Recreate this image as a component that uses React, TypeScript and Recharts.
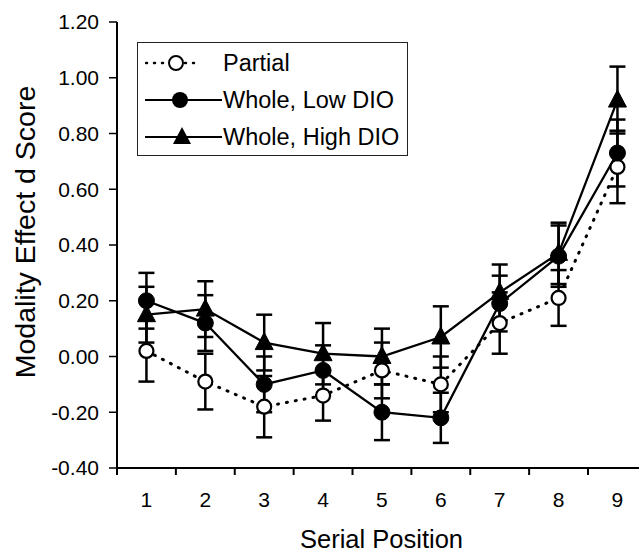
import React from 'react';
import { LineChart, Line, XAxis, YAxis, ErrorBar, Legend, Label } from 'recharts';

const FONT = '"Liberation Sans", Arial, Helvetica, sans-serif';

const positions = [1, 2, 3, 4, 5, 6, 7, 8, 9];
const xTickLabels = ['1', '2', '3', '4', '5', '6', '7', '8', '9'];
const partial = [0.02, -0.09, -0.18, -0.14, -0.05, -0.1, 0.12, 0.21, 0.68];
const partialErr = [0.11, 0.1, 0.11, 0.09, 0.1, 0.1, 0.11, 0.1, 0.13];
const lowDIO = [0.2, 0.12, -0.1, -0.05, -0.2, -0.22, 0.19, 0.36, 0.73];
const lowDIOErr = [0.1, 0.1, 0.1, 0.09, 0.1, 0.09, 0.1, 0.11, 0.12];
const highDIO = [0.15, 0.17, 0.05, 0.01, 0.0, 0.07, 0.23, 0.37, 0.92];
const highDIOErr = [0.1, 0.1, 0.1, 0.11, 0.1, 0.11, 0.1, 0.11, 0.12];
const yTicks = [-0.4, -0.2, 0, 0.2, 0.4, 0.6, 0.8, 1.0, 1.2];
const seriesNames = ['Partial', 'Whole, Low DIO', 'Whole, High DIO'];
const xTitle = 'Serial Position';
const yTitle = 'Modality Effect d Score';

const data = positions.map((p, i) => ({
  x: p,
  partial: partial[i],
  partialErr: partialErr[i],
  lowDIO: lowDIO[i],
  lowDIOErr: lowDIOErr[i],
  highDIO: highDIO[i],
  highDIOErr: highDIOErr[i],
}));

const xTicks = positions.flatMap((p) => [p - 0.5, p]);

const X_TICK_SIZE = 8;
const X_TICK_MARGIN = 16;

const XTick = (props: any) => {
  const { x, y, payload } = props;
  const v = payload.value;
  if (Number.isInteger(v)) {
    return (
      <text x={x} y={y} dy="0.71em" textAnchor="middle" fontSize={21} fill="#000" fontFamily={FONT}>
        {xTickLabels[v - 1]}
      </text>
    );
  }
  const axisY = y - X_TICK_SIZE - X_TICK_MARGIN;
  return <line x1={x} x2={x} y1={axisY} y2={axisY + 7} stroke="#000" strokeWidth={2} />;
};

const OpenDot = (p: any) => (
  <circle key={`o-${p.index}`} cx={p.cx} cy={p.cy} r={7} fill="#fff" stroke="#000" strokeWidth={2.2} />
);
const FilledDot = (p: any) => (
  <circle key={`f-${p.index}`} cx={p.cx} cy={p.cy} r={8} fill="#000" stroke="#000" strokeWidth={1} />
);
const TriDot = (p: any) => (
  <path
    key={`t-${p.index}`}
    d={`M${p.cx},${p.cy - 10} L${p.cx + 9},${p.cy + 7} L${p.cx - 9},${p.cy + 7} Z`}
    fill="#000"
    stroke="#000"
    strokeWidth={1}
  />
);

const YTitle = (props: any) => {
  const vb = props.viewBox;
  const cx = vb.x + 25;
  const cy = vb.y + vb.height / 2 - 13;
  return (
    <text
      x={cx}
      y={cy}
      transform={`rotate(-90 ${cx} ${cy})`}
      textAnchor="middle"
      dominantBaseline="central"
      fontSize={28.5}
      fill="#000"
      fontFamily={FONT}
    >
      {yTitle}
    </text>
  );
};

const XTitle = (props: any) => {
  const vb = props.viewBox;
  return (
    <text x={vb.x + vb.width / 2 + 3.5} y={vb.y + 80} textAnchor="middle" fontSize={25.5} fill="#000" fontFamily={FONT}>
      {xTitle}
    </text>
  );
};

const legendIcon = (i: number) => {
  if (i === 0) {
    return (
      <g>
        <line x1={1} x2={23} y1={18} y2={18} stroke="#000" strokeWidth={2.5} strokeDasharray="1 7" strokeLinecap="round" />
        <line x1={40} x2={56} y1={18} y2={18} stroke="#000" strokeWidth={2.5} strokeDasharray="1 7" strokeLinecap="round" />
        <circle cx={31} cy={18} r={7} fill="#fff" stroke="#000" strokeWidth={2} />
      </g>
    );
  }
  if (i === 1) {
    return (
      <g>
        <line x1={0} x2={77} y1={18} y2={18} stroke="#000" strokeWidth={2.2} />
        <circle cx={35} cy={18} r={8} fill="#000" />
      </g>
    );
  }
  return (
    <g>
      <line x1={0} x2={77} y1={18} y2={18} stroke="#000" strokeWidth={2.2} />
      <path d="M37,8 L46,25 L28,25 Z" fill="#000" />
    </g>
  );
};

const LegendBox = () => (
  <div
    style={{
      boxSizing: 'border-box',
      width: 271,
      height: 114,
      border: '1px solid #222',
      background: '#fff',
      paddingTop: 1.5,
      fontFamily: FONT,
      fontSize: 23.5,
      color: '#000',
    }}
  >
    {seriesNames.map((name, i) => (
      <div key={name} style={{ display: 'flex', alignItems: 'center', height: 37 }}>
        <svg width={78} height={36} style={{ marginLeft: 7, flex: 'none', display: 'block' }}>
          {legendIcon(i)}
        </svg>
        <span style={{ lineHeight: '36px', whiteSpace: 'nowrap' }}>{name}</span>
      </div>
    ))}
  </div>
);

export default function App() {
  return (
    <div style={{ position: 'absolute', left: 0, top: 0, width: 639, height: 552, background: '#fff' }}>
      <LineChart
        width={639}
        height={552}
        data={data}
        margin={{ top: 22, right: 0, bottom: 0, left: 0 }}
        style={{ fontFamily: FONT }}
      >
        <XAxis
          dataKey="x"
          type="number"
          domain={[0.5, 9.366]}
          allowDataOverflow
          ticks={xTicks}
          interval={0}
          height={84}
          tickSize={X_TICK_SIZE}
          tickMargin={X_TICK_MARGIN}
          tickLine={false}
          tick={<XTick />}
          axisLine={{ stroke: '#000', strokeWidth: 2 }}
          label={<Label content={XTitle} />}
        />
        <YAxis
          type="number"
          domain={[-0.4, 1.2]}
          ticks={yTicks}
          interval={0}
          width={117}
          tickSize={8}
          tickMargin={10}
          tickFormatter={(v: number) => v.toFixed(2)}
          tick={{ fontSize: 21, fill: '#000', fontFamily: FONT }}
          tickLine={{ stroke: '#000', strokeWidth: 1.5 }}
          axisLine={{ stroke: '#000', strokeWidth: 2 }}
          label={<Label content={YTitle} />}
        />
        <Legend
          layout="horizontal"
          verticalAlign="middle"
          align="center"
          width={271}
          height={114}
          wrapperStyle={{ left: 137, top: 42, width: 271, height: 114 }}
          content={LegendBox}
        />
        <Line
          name={seriesNames[0]}
          dataKey="partial"
          type="linear"
          stroke="#000"
          strokeWidth={3}
          strokeDasharray="1 8"
          strokeLinecap="round"
          dot={OpenDot}
          activeDot={false}
          isAnimationActive={false}
        >
          <ErrorBar dataKey="partialErr" direction="y" width={8} stroke="#000" strokeWidth={2.5} isAnimationActive={false} />
        </Line>
        <Line
          name={seriesNames[1]}
          dataKey="lowDIO"
          type="linear"
          stroke="#000"
          strokeWidth={2.3}
          dot={FilledDot}
          activeDot={false}
          isAnimationActive={false}
        >
          <ErrorBar dataKey="lowDIOErr" direction="y" width={8} stroke="#000" strokeWidth={2.5} isAnimationActive={false} />
        </Line>
        <Line
          name={seriesNames[2]}
          dataKey="highDIO"
          type="linear"
          stroke="#000"
          strokeWidth={2.3}
          dot={TriDot}
          activeDot={false}
          isAnimationActive={false}
        >
          <ErrorBar dataKey="highDIOErr" direction="y" width={8} stroke="#000" strokeWidth={2.5} isAnimationActive={false} />
        </Line>
      </LineChart>
    </div>
  );
}
